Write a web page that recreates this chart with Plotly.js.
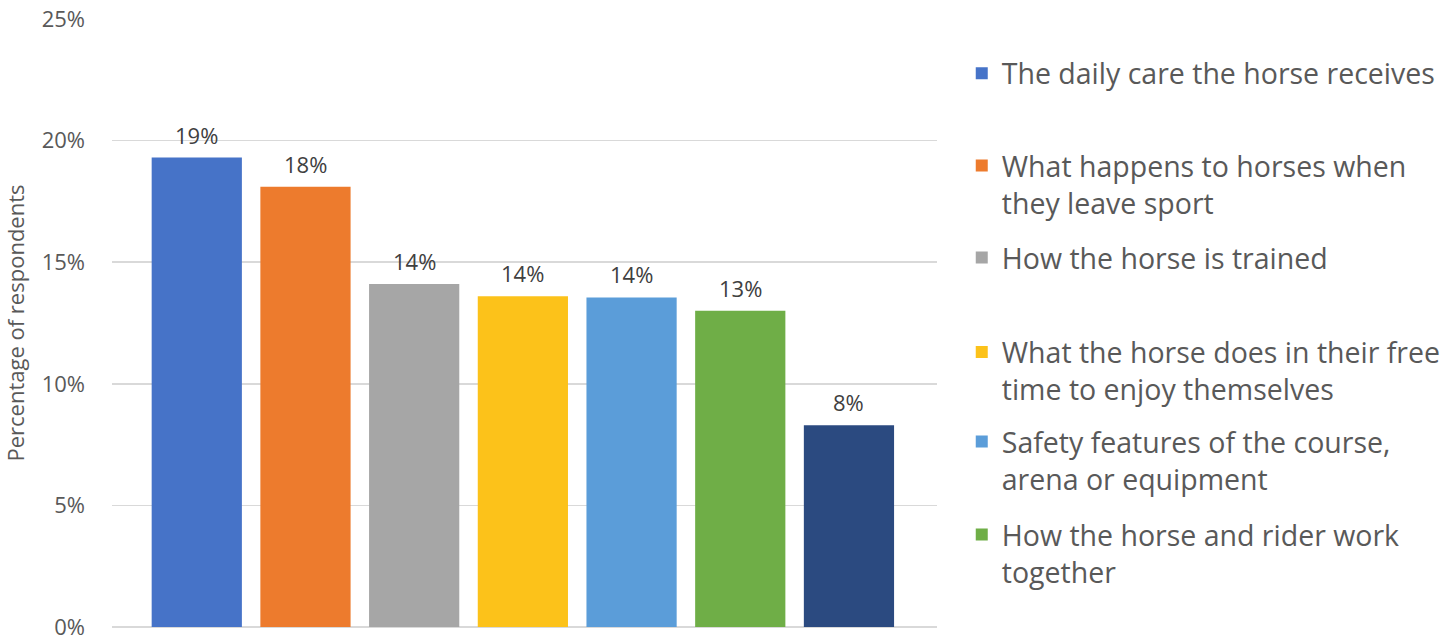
<!DOCTYPE html>
<html>
<head>
<meta charset="utf-8">
<script src="https://cdn.plot.ly/plotly-3.0.1.min.js"></script>
<style>html,body{margin:0;padding:0;background:#fff;}#chart{width:1445px;height:640px;}</style>
</head>
<body>
<div id="chart"></div>
<script>
// Data
const categories = [
  "The daily care the horse receives",
  "What happens to horses when<br>they leave sport",
  "How the horse is trained",
  "What the horse does in their free<br>time to enjoy themselves",
  "Safety features of the course,<br>arena or equipment",
  "How the horse and rider work<br>together",
  "Other"
];
const values = [19.3, 18.1, 14.1, 13.6, 13.55, 13.0, 8.3];
const valueLabels = ["19%", "18%", "14%", "14%", "14%", "13%", "8%"];
const showInLegend = [true, true, true, true, true, true, false];
const yTickVals = [0, 5, 10, 15, 20, 25];
const yTickText = ["0%", "5%", "10%", "15%", "20%", "25%"];
const colors = ["#4673c8", "#ed7b2d", "#a6a6a6", "#fcc21a", "#5b9dd9", "#6fae47", "#2b4a80"];
const legendY = [0.910, 0.728, 0.607, 0.421, 0.274, 0.121, 0.05];

const traces = categories.map((c, i) => ({
  type: 'bar',
  x: [i],
  y: [values[i]],
  name: c,
  marker: {color: colors[i]},
  width: 0.83,
  showlegend: showInLegend[i],
  legend: i === 0 ? 'legend' : 'legend' + (i + 1),
  hoverinfo: 'skip'
}));

const annotations = values.map((v, i) => ({
  x: i, y: v, xref: 'x', yref: 'y',
  text: valueLabels[i], showarrow: false,
  yanchor: 'bottom', yshift: 6,
  font: {family: 'Open Sans, sans-serif', size: 22, color: '#404040'}
}));

const legendBase = {
  x: 1.03, xanchor: 'left', yanchor: 'middle',
  font: {family: 'Open Sans, sans-serif', size: 28.5, color: '#595959'},
  bgcolor: 'rgba(0,0,0,0)', valign: 'top', borderwidth: 0
};

const layout = {
  width: 1445, height: 640,
  margin: {l: 112, r: 508, t: 19, b: 13, autoexpand: false},
  paper_bgcolor: '#fff', plot_bgcolor: '#fff',
  barmode: 'overlay',
  showlegend: true,
  annotations: annotations,
  xaxis: {range: [-0.78, 6.81], showticklabels: false, showgrid: false, zeroline: false, showline: false, ticks: ''},
  yaxis: {
    range: [0, 25], tickmode: 'array', tickvals: yTickVals, ticktext: yTickText,
    ticklabeloverflow: 'allow',
    gridcolor: '#d9d9d9', gridwidth: 1.5,
    zeroline: true, zerolinecolor: '#d9d9d9', zerolinewidth: 1.5,
    showline: false, ticks: '', ticklabelstandoff: 26,
    tickfont: {family: 'Open Sans, sans-serif', size: 22, color: '#595959'},
    title: {text: 'Percentage of respondents', standoff: 10, font: {family: 'Open Sans, sans-serif', size: 22, color: '#595959'}}
  }
};
for (let i = 0; i < 7; i++) {
  const key = i === 0 ? 'legend' : 'legend' + (i + 1);
  layout[key] = Object.assign({}, legendBase, {y: legendY[i]});
}

Plotly.newPlot('chart', traces, layout, {displayModeBar: false, staticPlot: true});
</script>
</body>
</html>
